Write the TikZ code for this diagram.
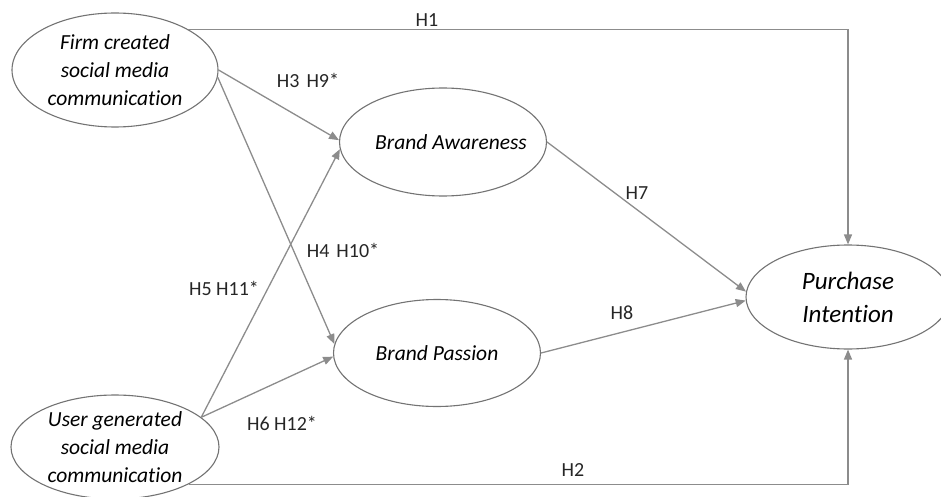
\documentclass[tikz,border=0pt]{standalone}
\usepackage{fontspec}
\setmainfont{Carlito}[Ligatures=NoCommon]
\usepackage{xcolor}
\usepackage{tikz}
\usetikzlibrary{shapes.geometric, arrows.meta, positioning, calc}

\definecolor{linegray}{RGB}{140,140,140}
\definecolor{rimgray}{RGB}{115,115,115}

\begin{document}
\begin{tikzpicture}[x=1pt, y=-1pt,
    construct/.style={ellipse, draw=rimgray, line width=1.1pt, inner sep=0pt, align=center,
      font=\itshape\fontsize{21.5}{28}\selectfont},
    hyp/.style={draw=linegray, line width=1.3pt, -{Triangle[length=10pt,width=8pt]}},
    hlabel/.style={font=\fontsize{20}{24}\selectfont, text=black!85, inner sep=0pt}]
  \useasboundingbox (0,0) rectangle (941,497);

  % Constructs
  \node[construct, minimum width=206pt, minimum height=114pt] (firm) at (115,70)
    {Firm created\\social media\\communication};
  \node[construct, minimum width=208pt, minimum height=104pt] (user) at (115,447)
    {User generated\\social media\\communication};
  \node[construct, minimum width=207pt, minimum height=108pt] (ba) at (443,142)
    {\makebox[120pt]{\hspace{16pt}Brand Awareness}};
  \node[construct, minimum width=207pt, minimum height=107pt] (bp) at (437,353) {Brand Passion};
  \node[construct, minimum width=204pt, minimum height=104pt,
    font=\itshape\fontsize{25}{33}\selectfont] (pi) at (848,297) {Purchase\\Intention};

  % Direct paths
  \draw[hyp] (firm.north east) -| (pi.north);
  \draw[hyp] (user.south east) -| (pi.south);

  % Paths to mediators
  \draw[hyp] (firm.east) -- (ba.179);
  \draw[hyp] (firm.-4) -- (bp.175);
  \draw[hyp] (user.19) -- (ba.184);
  \draw[hyp] (user.19) -- (bp.182);

  % Mediators to purchase intention
  \draw[hyp] (ba.east) -- (pi.177);
  \draw[hyp] (bp.east) -- (pi.182);

  % Hypothesis labels
  \node[hlabel] (h1) at (427,20) {H1};
  \node[hlabel] (h2) at (573,470) {H2};
  \node[hlabel] (h3) at (308,80) {H3\hspace{7pt}H9*};
  \node[hlabel] (h4) at (343,250) {H4\hspace{7pt}H10*};
  \node[hlabel] (h5) at (224,288) {H5 H11*};
  \node[hlabel] (h6) at (282,423) {H6 H12*};
  \node[hlabel] (h7) at (637,193) {H7};
  \node[hlabel] (h8) at (622,313) {H8};
\end{tikzpicture}
\end{document}
